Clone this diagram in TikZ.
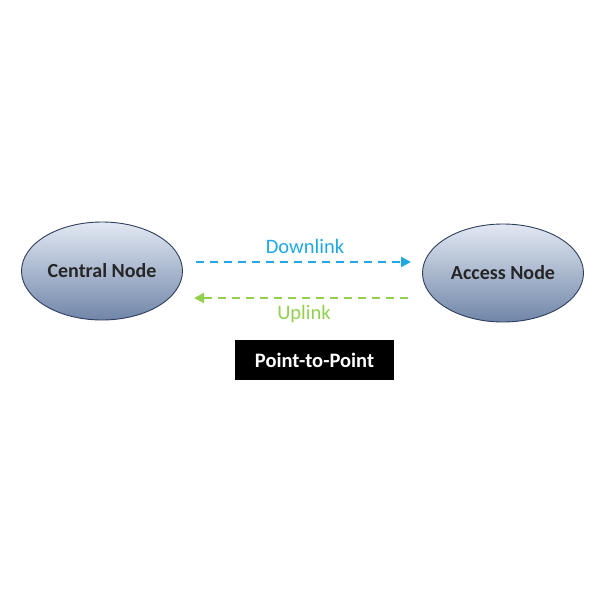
\documentclass[tikz,border=0pt]{standalone}
\usepackage{fontspec}
\setmainfont{Carlito}
\usetikzlibrary{shapes.geometric,arrows.meta}
\definecolor{dlblue}{HTML}{1FA8E4}
\definecolor{ulgreen}{HTML}{92D050}
\definecolor{ellborder}{HTML}{2E3D5C}
\definecolor{elltop}{HTML}{E2E8F3}
\definecolor{ellbot}{HTML}{7086A8}
\tikzset{
  nodeell/.style={ellipse, draw=ellborder, line width=0.9pt, top color=elltop, bottom color=ellbot,
    minimum width=161pt, minimum height=98pt, inner sep=0pt, font=\fontsize{20}{24}\selectfont\bfseries, text=black!85},
  linkarrow/.style={line width=2pt, dash pattern=on 8pt off 6pt, -{Triangle[length=10pt,width=10pt]}},
  linklabel/.style={font=\fontsize{20.5}{24}\selectfont},
  tagbox/.style={fill=black, text=white, minimum width=159pt, minimum height=40pt, inner sep=0pt, font=\fontsize{20.5}{24}\selectfont\bfseries}
}
\begin{document}
\begin{tikzpicture}[x=1pt,y=-1pt]
\useasboundingbox (0,0) rectangle (600,600);
\node[nodeell] (central) at (102,271) {Central Node};
\node[nodeell] (access) at (503,273) {Access Node};
\coordinate (dlA) at (196,262);
\coordinate (dlB) at (411,262);
\coordinate (ulA) at (408,298);
\coordinate (ulB) at (194,298);
\draw[linkarrow, dlblue] (dlA) -- (dlB);
\draw[linkarrow, ulgreen] (ulA) -- (ulB);
\node[linklabel, text=dlblue] (dl) at (305,246) {Downlink};
\node[linklabel, text=ulgreen] (ul) at (304,314) {Uplink};
\node[tagbox] (tag) at (314.5,360) {Point-to-Point};
\end{tikzpicture}
\end{document}
